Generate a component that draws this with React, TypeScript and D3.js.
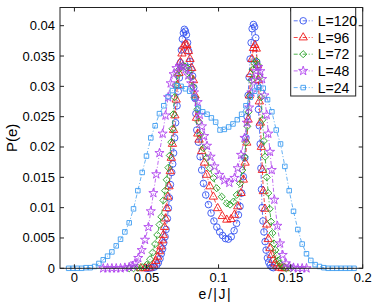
import React, { useEffect, useRef } from "react";
import * as d3 from "d3";

// [e/|J|, P(e)]
const L120 = [
  [0.05, 0], [0.052, 0], [0.054, 0.0001], [0.0555, 0.0002], [0.0571, 0.0005], [0.0582, 0.0009],
  [0.0594, 0.0016], [0.0603, 0.0024], [0.0612, 0.0032], [0.062, 0.0042], [0.0629, 0.0052],
  [0.0636, 0.0064], [0.0645, 0.0082], [0.0652, 0.0099], [0.0659, 0.0116], [0.0666, 0.0138],
  [0.0675, 0.0158], [0.0682, 0.0172], [0.0688, 0.019], [0.0695, 0.0215], [0.0702, 0.024],
  [0.0712, 0.0268], [0.072, 0.0292], [0.0728, 0.0314], [0.0735, 0.0339], [0.0742, 0.036],
  [0.0749, 0.0378], [0.0756, 0.0388], [0.0763, 0.0394], [0.077, 0.0391], [0.0777, 0.0385],
  [0.0785, 0.0372], [0.0793, 0.0358], [0.0802, 0.0341], [0.081, 0.0328], [0.082, 0.0317],
  [0.0828, 0.0298], [0.0837, 0.028], [0.0843, 0.0255], [0.0849, 0.0228], [0.086, 0.0208],
  [0.0872, 0.0184], [0.0883, 0.0162], [0.0895, 0.014], [0.0911, 0.0121], [0.093, 0.0105],
  [0.0948, 0.0091], [0.0968, 0.0078], [0.0988, 0.0068], [0.1008, 0.006], [0.1028, 0.0054],
  [0.1048, 0.0049], [0.1068, 0.0048], [0.1088, 0.0052], [0.1108, 0.0062], [0.1125, 0.0074],
  [0.1138, 0.0088], [0.1149, 0.0102], [0.1161, 0.0124], [0.1172, 0.0151], [0.1182, 0.0182],
  [0.119, 0.0215], [0.1198, 0.025], [0.1205, 0.0285], [0.1212, 0.0315], [0.1219, 0.0345],
  [0.1226, 0.0372], [0.1233, 0.0395], [0.1242, 0.0402], [0.125, 0.0398], [0.1258, 0.038],
  [0.1265, 0.034], [0.1271, 0.03], [0.1277, 0.0262], [0.1283, 0.0235], [0.1289, 0.0205],
  [0.1294, 0.0165], [0.1298, 0.013], [0.1302, 0.01], [0.1308, 0.0078], [0.1315, 0.006],
  [0.1323, 0.0044], [0.133, 0.003], [0.1339, 0.0017], [0.1348, 0.001], [0.1358, 0.0005],
  [0.137, 0.0002], [0.138, 0.0001],
];

const L96 = [
  [0.046, 0], [0.049, 0], [0.052, 0.0001], [0.0548, 0.0006], [0.0566, 0.0012], [0.0578, 0.0019],
  [0.059, 0.0028], [0.06, 0.0036], [0.061, 0.0046], [0.0617, 0.0055], [0.0625, 0.0068],
  [0.0632, 0.0082], [0.064, 0.0099], [0.0648, 0.0118], [0.0656, 0.0135], [0.0665, 0.016],
  [0.0672, 0.0182], [0.068, 0.0205], [0.0688, 0.0228], [0.0697, 0.0252], [0.0706, 0.0278],
  [0.0715, 0.0302], [0.0725, 0.0322], [0.0735, 0.034], [0.0746, 0.0354], [0.0757, 0.0366],
  [0.0769, 0.0369], [0.078, 0.0368], [0.0791, 0.0358], [0.0802, 0.0345], [0.0814, 0.033],
  [0.0826, 0.031], [0.0837, 0.0285], [0.0847, 0.0248], [0.0856, 0.0222], [0.0865, 0.0212],
  [0.0883, 0.0193], [0.0902, 0.0174], [0.0918, 0.0154], [0.094, 0.0135], [0.0964, 0.0118],
  [0.0994, 0.0099], [0.1026, 0.0086], [0.1057, 0.008], [0.1087, 0.0081], [0.111, 0.0088],
  [0.1133, 0.0102], [0.1156, 0.0124], [0.1172, 0.0146], [0.1184, 0.0174], [0.1196, 0.0207],
  [0.1205, 0.0245], [0.1214, 0.0285], [0.1222, 0.032], [0.1232, 0.0345], [0.1242, 0.0363],
  [0.1252, 0.0368], [0.1262, 0.0362], [0.127, 0.0335], [0.1276, 0.031], [0.1283, 0.0275],
  [0.129, 0.024], [0.1297, 0.02], [0.1304, 0.0162], [0.1311, 0.0127], [0.1322, 0.0098],
  [0.1334, 0.0072], [0.1345, 0.0048], [0.1357, 0.0033], [0.1369, 0.0022], [0.138, 0.0014],
  [0.1392, 0.0008], [0.1405, 0.0004], [0.142, 0.0001], [0.144, 0], [0.146, 0],
];

const L72 = [
  [0.038, 0], [0.041, 0], [0.044, 0.0001], [0.047, 0.0002], [0.0502, 0.0006], [0.0525, 0.0015],
  [0.0543, 0.0026], [0.056, 0.004], [0.0575, 0.0055], [0.059, 0.0072], [0.0603, 0.0085],
  [0.0617, 0.0112], [0.0629, 0.0128], [0.064, 0.0146], [0.0652, 0.0166], [0.0662, 0.0186],
  [0.0672, 0.0208], [0.068, 0.023], [0.0686, 0.0254], [0.0694, 0.0282], [0.0705, 0.0302],
  [0.0715, 0.0318], [0.0727, 0.0328], [0.0739, 0.0333], [0.0752, 0.0334], [0.0766, 0.0333],
  [0.078, 0.0331], [0.0792, 0.0324], [0.0805, 0.0315], [0.082, 0.03], [0.0837, 0.0281],
  [0.0853, 0.0262], [0.0862, 0.0242], [0.0872, 0.022], [0.0895, 0.0198], [0.0918, 0.0182],
  [0.094, 0.0165], [0.0964, 0.0149], [0.0987, 0.0132], [0.1022, 0.0118], [0.1057, 0.0107],
  [0.108, 0.0105], [0.1103, 0.011], [0.1126, 0.0121], [0.1149, 0.014], [0.1165, 0.0162],
  [0.118, 0.0184], [0.1191, 0.0208], [0.12, 0.0234], [0.1208, 0.0258], [0.1218, 0.0285],
  [0.1228, 0.031], [0.1238, 0.0328], [0.125, 0.0338], [0.1262, 0.0342], [0.1274, 0.0335],
  [0.1285, 0.0315], [0.1295, 0.0282], [0.1305, 0.0245], [0.1314, 0.021], [0.1323, 0.0184],
  [0.1334, 0.015], [0.1345, 0.0124], [0.1355, 0.0098], [0.1364, 0.0077], [0.1374, 0.0058],
  [0.1384, 0.0041], [0.1394, 0.003], [0.1404, 0.0021], [0.1414, 0.0013], [0.1426, 0.0008],
  [0.144, 0.0004], [0.1455, 0.0002], [0.147, 0], [0.15, 0],
];

const L48 = [
  [0.02, 0], [0.023, 0], [0.026, 0], [0.029, 0], [0.032, 0], [0.035, 0.0001], [0.038, 0.0002],
  [0.0405, 0.0004], [0.042, 0.0008], [0.0443, 0.0017], [0.0467, 0.003], [0.049, 0.0047],
  [0.0513, 0.0068], [0.053, 0.0094], [0.0548, 0.0124], [0.0568, 0.0155], [0.059, 0.019],
  [0.0612, 0.0222], [0.0632, 0.0252], [0.065, 0.0282], [0.0668, 0.0305], [0.0688, 0.032],
  [0.0708, 0.033], [0.073, 0.0333], [0.075, 0.0333], [0.077, 0.0328], [0.079, 0.0318],
  [0.081, 0.0305], [0.083, 0.029], [0.0855, 0.0274], [0.087, 0.0253], [0.0885, 0.0234],
  [0.09, 0.0218], [0.092, 0.0202], [0.0945, 0.0184], [0.0972, 0.0168], [0.1005, 0.0154],
  [0.104, 0.0145], [0.1075, 0.0141], [0.111, 0.0149], [0.1133, 0.0165], [0.1156, 0.0187],
  [0.118, 0.0215], [0.1196, 0.024], [0.1212, 0.0265], [0.1228, 0.029], [0.1245, 0.031],
  [0.126, 0.0325], [0.1276, 0.0332], [0.129, 0.0325], [0.1302, 0.0312], [0.1318, 0.0285],
  [0.1334, 0.0253], [0.1345, 0.0222], [0.1357, 0.0192], [0.1369, 0.0162], [0.1387, 0.0113],
  [0.1408, 0.007], [0.1427, 0.0041], [0.1445, 0.0022], [0.1468, 0.0008], [0.149, 0.0003],
  [0.152, 0.0001], [0.155, 0], [0.158, 0], [0.161, 0],
];

const L24 = [
  [-0.004, 0], [-0.001, 0], [0.002, 0], [0.005, 0], [0.008, 0.0001], [0.011, 0.0001],
  [0.014, 0.0003], [0.017, 0.0008], [0.02, 0.0014], [0.023, 0.002], [0.026, 0.0027],
  [0.029, 0.0037], [0.032, 0.0048], [0.035, 0.006], [0.038, 0.0075], [0.041, 0.0098],
  [0.044, 0.0128], [0.047, 0.0158], [0.05, 0.0185], [0.053, 0.0215], [0.056, 0.0235],
  [0.059, 0.0255], [0.062, 0.0268], [0.065, 0.0283], [0.068, 0.0293], [0.071, 0.0301],
  [0.074, 0.03], [0.077, 0.0296], [0.08, 0.0292], [0.083, 0.0282], [0.086, 0.0264],
  [0.089, 0.0258], [0.092, 0.0254], [0.095, 0.0248], [0.098, 0.0241], [0.101, 0.0228],
  [0.104, 0.0229], [0.107, 0.0233], [0.11, 0.0238], [0.113, 0.0245], [0.116, 0.0254],
  [0.119, 0.0268], [0.122, 0.0282], [0.125, 0.0292], [0.128, 0.0298], [0.131, 0.0297],
  [0.134, 0.0278], [0.137, 0.0258], [0.14, 0.0228], [0.143, 0.0205], [0.146, 0.0168],
  [0.149, 0.0128], [0.152, 0.0094], [0.155, 0.0064], [0.158, 0.004], [0.161, 0.0024],
  [0.164, 0.0013], [0.167, 0.0006], [0.17, 0.0003], [0.173, 0.0001], [0.176, 0],
  [0.179, 0], [0.182, 0], [0.185, 0], [0.188, 0], [0.191, 0], [0.194, 0],
];

const seriesNames = ["L=120", "L=96", "L=72", "L=48", "L=24"];
const seriesData = [L120, L96, L72, L48, L24];
const seriesColors = ["#3553f0", "#f01818", "#22a022", "#b044ee", "#3d9cf0"];
const xTicks = [0, 0.05, 0.1, 0.15, 0.2];
const yTicks = [0, 0.005, 0.01, 0.015, 0.02, 0.025, 0.03, 0.035, 0.04];

const symbols = [d3.symbolCircle, d3.symbolTriangle, d3.symbolDiamond2, d3.symbolStar, d3.symbolSquare2];
const symbolSizes = [34, 30, 32, 26, 26];

export default function App() {
  const ref = useRef<SVGSVGElement>(null);

  useEffect(() => {
    const svg = d3.select(ref.current);
    svg.selectAll("*").remove();

    const margin = { left: 60, right: 12.3, top: 7.5, bottom: 35.7 };
    const width = 375, height = 304;
    const font = "'Liberation Sans', Arial, sans-serif";

    const x = d3.scaleLinear().domain([-0.01, 0.2]).range([margin.left, width - margin.right]);
    const y = d3.scaleLinear().domain([0, 0.043]).range([height - margin.bottom, margin.top]);

    const g = svg.append("g");

    // data lines + markers
    seriesData.forEach((data, i) => {
      const line = d3.line<number[]>().x(d => x(d[0])).y(d => y(d[1]));
      g.append("path")
        .datum(data)
        .attr("d", line)
        .attr("fill", "none")
        .attr("stroke", seriesColors[i])
        .attr("stroke-width", 0.8)
        .attr("stroke-dasharray", "4,2,1,2");

      const sym = d3.symbol().type(symbols[i]).size(symbolSizes[i]);
      g.selectAll(".m" + i)
        .data(data)
        .enter()
        .append("path")
        .attr("class", "m" + i)
        .attr("d", sym)
        .attr("transform", d => "translate(" + x(d[0]) + "," + y(d[1]) + ")")
        .attr("fill", "none")
        .attr("stroke", seriesColors[i])
        .attr("stroke-width", 0.9);
    });

    // axes box
    const x0 = margin.left, x1 = width - margin.right;
    const y0 = height - margin.bottom, y1 = margin.top;
    g.append("rect")
      .attr("x", x0).attr("y", y1)
      .attr("width", x1 - x0).attr("height", y0 - y1)
      .attr("fill", "none").attr("stroke", "#222").attr("stroke-width", 1);

    const tick = 4;
    xTicks.forEach(t => {
      g.append("line").attr("x1", x(t)).attr("x2", x(t)).attr("y1", y0).attr("y2", y0 - tick).attr("stroke", "#222");
      g.append("line").attr("x1", x(t)).attr("x2", x(t)).attr("y1", y1).attr("y2", y1 + tick).attr("stroke", "#222");
      g.append("text")
        .attr("x", x(t)).attr("y", y0 + 14)
        .attr("text-anchor", "middle")
        .style("font-family", font).style("font-size", "13px")
        .text(String(t));
    });
    yTicks.forEach(t => {
      g.append("line").attr("x1", x0).attr("x2", x0 + tick).attr("y1", y(t)).attr("y2", y(t)).attr("stroke", "#222");
      g.append("line").attr("x1", x1).attr("x2", x1 - tick).attr("y1", y(t)).attr("y2", y(t)).attr("stroke", "#222");
      g.append("text")
        .attr("x", x0 - 5).attr("y", y(t) + 4.5)
        .attr("text-anchor", "end")
        .style("font-family", font).style("font-size", "13px")
        .text(String(t));
    });

    // axis labels
    g.append("text")
      .attr("x", (x0 + x1) / 2 + 4).attr("y", height - 5)
      .attr("text-anchor", "middle")
      .style("font-family", font).style("font-size", "14px")
      .style("letter-spacing", "1.5px")
      .text("e/|J|");
    g.append("text")
      .attr("transform", "translate(17," + (y0 + y1) / 2 + ") rotate(-90)")
      .attr("text-anchor", "middle")
      .style("font-family", font).style("font-size", "15px")
      .text("P(e)");

    // legend
    const lx = 290.7, ly = 7.5, lw = 65, lh = 88.5;
    const lg = g.append("g");
    lg.append("rect")
      .attr("x", lx).attr("y", ly).attr("width", lw).attr("height", lh)
      .attr("fill", "white").attr("stroke", "#222").attr("stroke-width", 1);
    seriesNames.forEach((name, i) => {
      const cy = ly + 13.3 + i * 16.7;
      lg.append("line")
        .attr("x1", lx + 3).attr("x2", lx + 22).attr("y1", cy).attr("y2", cy)
        .attr("stroke", seriesColors[i]).attr("stroke-width", 0.8)
        .attr("stroke-dasharray", "4,2,1,2");
      lg.append("path")
        .attr("d", d3.symbol().type(symbols[i]).size(symbolSizes[i])())
        .attr("transform", "translate(" + (lx + 12.5) + "," + cy + ")")
        .attr("fill", "none").attr("stroke", seriesColors[i]).attr("stroke-width", 0.9);
      lg.append("text")
        .attr("x", lx + 27).attr("y", cy + 5)
        .style("font-family", font).style("font-size", "14px")
        .text(name);
    });
  }, []);

  return (
    <svg
      ref={ref}
      width={375}
      height={304}
      style={{ position: "absolute", left: 0, top: 0, background: "white" }}
    />
  );
}
